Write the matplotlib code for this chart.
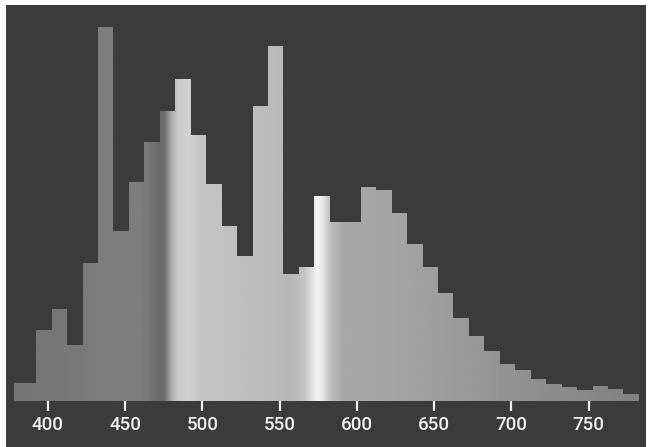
import numpy as np
import matplotlib
matplotlib.use("Agg")
import matplotlib.pyplot as plt
from matplotlib.path import Path
from matplotlib.patches import PathPatch, Rectangle

# spectrum bins (nm) and relative intensity
bin_left = [378.0, 392.5, 402.5, 412.5, 422.5, 432.5, 442.5, 452.5, 462.5, 472.5,
            482.5, 492.5, 502.5, 512.5, 522.5, 532.5, 542.5, 552.5, 562.5, 572.5,
            582.5, 592.5, 602.5, 612.5, 622.5, 632.5, 642.5, 652.5, 662.5, 672.5,
            682.5, 692.5, 702.5, 712.5, 722.5, 732.5, 742.5, 752.5, 762.5, 772.5]
bin_width = [14.5] + [10.0] * 39
intensity = [4.9, 18.9, 24.5, 15.0, 37.0, 100.0, 45.6, 58.5, 69.4, 77.7,
             86.2, 71.2, 58.1, 46.8, 38.7, 78.9, 94.9, 34.0, 35.8, 55.0,
             48.0, 48.0, 57.4, 56.5, 50.3, 41.9, 35.8, 28.9, 22.3, 17.5,
             13.5, 10.0, 8.4, 5.9, 4.6, 3.7, 3.0, 4.1, 3.3, 1.9]
tick_nm = [400, 450, 500, 550, 600, 650, 700, 750]

# grey shade of the spectrum strip (wavelength -> grey level)
shade_nm = [377, 434, 460, 469, 475, 480, 484, 491, 499, 531, 557, 566, 572, 575, 578, 583, 592, 628, 693, 785]
shade_lv = [115, 124, 126, 112, 106, 170, 200, 210, 196, 190, 182, 195, 230, 245, 230, 190, 168, 164, 148, 128]

bg = "#3b3b3b"
W, H = 648, 447
fig = plt.figure(figsize=(W / 100, H / 100), dpi=100, facecolor="white")
fig.patches.append(Rectangle((6 / W, 0), 640 / W, 442 / H, transform=fig.transFigure,
                             facecolor=bg, edgecolor="none", zorder=-5))

ax = fig.add_axes([6 / W, 46 / H, 640 / W, 396 / H])
ax.set_facecolor(bg)
for s in ax.spines.values():
    s.set_visible(False)

bars = ax.bar(bin_left, intensity, width=bin_width, align="edge",
              facecolor="none", edgecolor="none")
ax.set_xlim(373.0, 787.1)
ax.set_ylim(0, 106)

# gradient fill clipped to the bar outline
paths = [b.get_path().transformed(b.get_patch_transform()) for b in bars]
clip = PathPatch(Path.make_compound_path(*paths), transform=ax.transData,
                 facecolor="none", edgecolor="none")
ax.add_patch(clip)
xs = np.linspace(373, 788, 1200)
grey = np.interp(xs, shade_nm, shade_lv) / 255.0
img = np.repeat(grey[None, :], 2, axis=0)
im = ax.imshow(img, cmap="gray", vmin=0, vmax=1, aspect="auto",
               extent=[373, 788, 0, 106], origin="lower", interpolation="bilinear")
im.set_clip_path(clip)

ax.set_yticks([])
ax.set_xticks(tick_nm)
ax.set_xticklabels([str(t) for t in tick_nm])
ax.tick_params(axis="x", direction="out", length=7.5, width=1.6, color="#f0f0f0",
               pad=3.5, labelcolor="#f0f0f0", labelsize=13.5)
for lab in ax.get_xticklabels():
    lab.set_family(["Roboto", "DejaVu Sans"])
    lab.set_fontweight("medium")

fig.savefig("out.png", dpi=100, facecolor="white")
